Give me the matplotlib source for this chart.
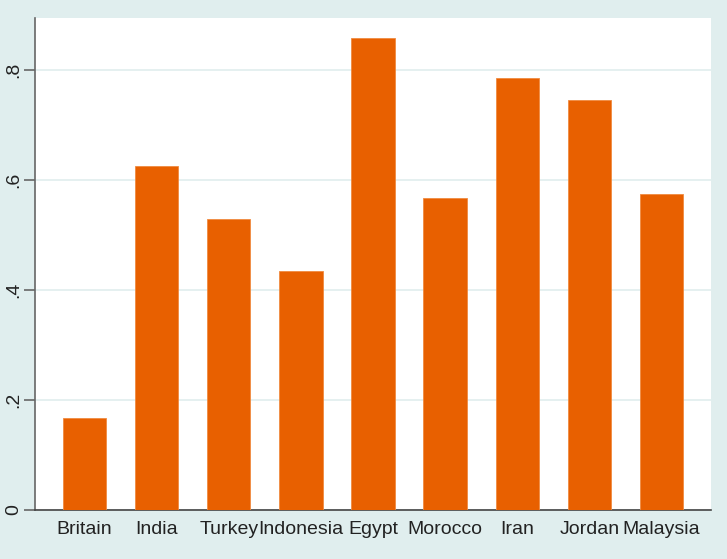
import numpy as np
import matplotlib.pyplot as plt

# values
countries = ["Britain", "India", "Turkey", "Indonesia", "Egypt",
             "Morocco", "Iran", "Jordan", "Malaysia"]
shares = [0.167, 0.626, 0.529, 0.435, 0.858, 0.567, 0.785, 0.745, 0.575]
yticks = [0, 0.2, 0.4, 0.6, 0.8]
ylabels = ["0", ".2", ".4", ".6", ".8"]

bg = "#e0eeee"
barcol = "#e86000"

plt.rcParams['font.family'] = ['Liberation Sans', 'DejaVu Sans']

fig = plt.figure(figsize=(7.27, 5.59), dpi=100, facecolor=bg)
ax = fig.add_axes([35/727, 49/559, 676/727, 492/559])
ax.set_facecolor("white")

x = np.arange(len(countries))
ax.bar(x, shares, width=0.6, color=barcol, edgecolor="#f08a40", linewidth=0.6, zorder=3)

ax.set_xlim(-0.687, len(countries) - 1 + 0.687)
ax.set_ylim(0, 0.895)
ax.set_yticks(yticks)
ax.set_yticklabels(ylabels, rotation=90, va="center", fontsize=14, color="#222222")
ax.set_xticks(x)
ax.set_xticklabels(countries, fontsize=14, color="#222222")
ax.tick_params(axis='x', length=0, pad=8)
ax.tick_params(axis='y', length=8, width=1.2, color="#666666", pad=1)

ax.grid(axis='y', color=bg, linewidth=1.2, zorder=0)
for s in ["top", "right"]:
	ax.spines[s].set_visible(False)
ax.spines["left"].set_color("#666666")
ax.spines["left"].set_linewidth(1.2)
ax.spines["bottom"].set_color("#444444")
ax.spines["bottom"].set_linewidth(1.2)

plt.savefig("out.png", dpi=100, facecolor=bg)
